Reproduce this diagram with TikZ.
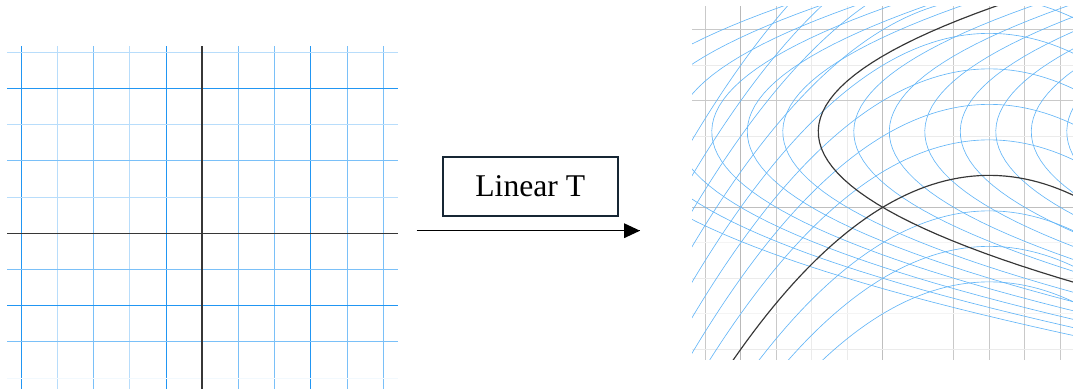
\documentclass[tikz,border=0pt]{standalone}
\usepackage{fontspec}
\setmainfont{Liberation Serif}
\definecolor{gridblue}{RGB}{33,150,243}
\definecolor{axisgray}{RGB}{55,55,55}
\definecolor{boxnavy}{RGB}{22,38,52}

\begin{document}
\begin{tikzpicture}[scale=0.3]
            \tikzstyle{every node}+=[inner sep=0pt]
            \tikzstyle{bluestrong}=[gridblue, line width=0.8pt]
            \tikzstyle{bluemid}=[gridblue!60, line width=0.8pt]
            \tikzstyle{bluefaint}=[gridblue!32, line width=0.8pt]
            \tikzstyle{axisline}=[axisgray, line width=1.2pt]
            \tikzstyle{graymid}=[gray!42, line width=0.9pt]
            \tikzstyle{grayfaint}=[gray!16, line width=0.9pt]
            \tikzstyle{imgcurve}=[gridblue!70, line width=0.55pt]
            \tikzstyle{imgaxis}=[axisgray, line width=1pt]
            \useasboundingbox (0,0) rectangle (107.3,-38.9);
            % plain grid, left
            \draw [bluestrong] (2.13,-4.6) -- (2.13,-38.9);
            \draw [bluefaint] (5.75,-4.6) -- (5.75,-38.9);
            \draw [bluemid] (9.37,-4.6) -- (9.37,-38.9);
            \draw [bluefaint] (12.99,-4.6) -- (12.99,-38.9);
            \draw [bluestrong] (16.61,-4.6) -- (16.61,-38.9);
            \draw [bluemid] (23.85,-4.6) -- (23.85,-38.9);
            \draw [bluemid] (27.47,-4.6) -- (27.47,-38.9);
            \draw [bluestrong] (31.09,-4.6) -- (31.09,-38.9);
            \draw [bluemid] (34.71,-4.6) -- (34.71,-38.9);
            \draw [bluemid] (38.33,-4.6) -- (38.33,-38.9);
            \draw [bluefaint] (0.7,-5.23) -- (39.8,-5.23);
            \draw [bluestrong] (0.7,-8.85) -- (39.8,-8.85);
            \draw [bluefaint] (0.7,-12.47) -- (39.8,-12.47);
            \draw [bluemid] (0.7,-16.09) -- (39.8,-16.09);
            \draw [bluefaint] (0.7,-19.71) -- (39.8,-19.71);
            \draw [bluemid] (0.7,-26.95) -- (39.8,-26.95);
            \draw [bluestrong] (0.7,-30.57) -- (39.8,-30.57);
            \draw [bluemid] (0.7,-34.19) -- (39.8,-34.19);
            \draw [gridblue!6, line width=0.8pt] (0.7,-37.81) -- (39.8,-37.81);
            \draw [axisline, line width=1.5pt] (20.23,-4.6) -- (20.23,-38.9);
            \draw [axisline, line width=1.1pt] (0.7,-23.33) -- (39.8,-23.33);
            % label box and arrow
            \draw (53.03,-18.63) node [draw=boxnavy, line width=1.7pt, minimum width=5.26cm, minimum height=1.76cm, font=\fontsize{27}{32}\selectfont] (tbox) {Linear T};
            \coordinate (tail) at (41.67,-23.07);
            \coordinate (head) at (64.0,-23.07);
            \draw [black, line width=0.85pt] (tail) -- (head);
            \fill [black] (head) -- ++(-1.6,0.75) -- ++(0,-1.5) -- cycle;
            % warped grid, right
            \begin{scope}[shift={(88.27,-20.73)}, scale=3.55]
            \clip (-5.372,-4.287) rectangle (5.363,5.67);
            \draw [graymid] (-5,-4.3) -- (-5,5.7);
            \draw [gray!55, line width=0.9pt] (-4,-4.3) -- (-4,5.7);
            \draw [graymid] (-3,-4.3) -- (-3,5.7);
            \draw [grayfaint] (-2,-4.3) -- (-2,5.7);
            \draw [grayfaint] (-1,-4.3) -- (-1,5.7);
            \draw [gray!50, line width=1.1pt] (0,-4.3) -- (0,5.7);
            \draw [graymid] (2,-4.3) -- (2,5.7);
            \draw [graymid] (3,-4.3) -- (3,5.7);
            \draw [graymid] (4,-4.3) -- (4,5.7);
            \draw [graymid] (5,-4.3) -- (5,5.7);
            \draw [graymid] (-5.4,5) -- (5.4,5);
            \draw [grayfaint] (-5.4,4) -- (5.4,4);
            \draw [graymid] (-5.4,3) -- (5.4,3);
            \draw [grayfaint] (-5.4,2) -- (5.4,2);
            \draw [gray!50, line width=1.1pt] (-5.4,0) -- (5.4,0);
            \draw [gray!9, line width=0.9pt] (-5.4,-1) -- (5.4,-1);
            \draw [grayfaint] (-5.4,-2) -- (5.4,-2);
            \draw [gray!9, line width=0.9pt] (-5.4,-3) -- (5.4,-3);
            \draw [grayfaint] (-5.4,-4) -- (5.4,-4);
            % images of the vertical lines
            \draw [imgcurve] plot [domain=-4.4:5.8, samples=60] ({-7.815+0.4*(\x-2.13)^2}, \x);
            \draw [imgcurve] plot [domain=-4.4:5.8, samples=60] ({-6.815+0.4*(\x-2.13)^2}, \x);
            \draw [imgcurve] plot [domain=-4.4:5.8, samples=60] ({-5.815+0.4*(\x-2.13)^2}, \x);
            \draw [imgcurve] plot [domain=-4.4:5.8, samples=60] ({-4.815+0.4*(\x-2.13)^2}, \x);
            \draw [imgcurve] plot [domain=-4.4:5.8, samples=60] ({-3.815+0.4*(\x-2.13)^2}, \x);
            \draw [imgcurve] plot [domain=-4.4:5.8, samples=60] ({-2.815+0.4*(\x-2.13)^2}, \x);
            \draw [imgcurve] plot [domain=-4.4:5.8, samples=60] ({-0.815+0.4*(\x-2.13)^2}, \x);
            \draw [imgcurve] plot [domain=-4.4:5.8, samples=60] ({0.185+0.4*(\x-2.13)^2}, \x);
            \draw [imgcurve] plot [domain=-4.4:5.8, samples=60] ({1.185+0.4*(\x-2.13)^2}, \x);
            \draw [imgcurve] plot [domain=-4.4:5.8, samples=60] ({2.185+0.4*(\x-2.13)^2}, \x);
            \draw [imgcurve] plot [domain=-4.4:5.8, samples=60] ({3.185+0.4*(\x-2.13)^2}, \x);
            \draw [imgcurve] plot [domain=-4.4:5.8, samples=60] ({4.185+0.4*(\x-2.13)^2}, \x);
            \draw [imgcurve] plot [domain=-4.4:5.8, samples=60] ({5.185+0.4*(\x-2.13)^2}, \x);
            % images of the horizontal lines
            \draw [imgcurve] plot [domain=-5.5:5.5, samples=60] (\x, {-2.1-0.1*(\x-3)^2});
            \draw [imgcurve] plot [domain=-5.5:5.5, samples=60] (\x, {-1.1-0.1*(\x-3)^2});
            \draw [imgcurve] plot [domain=-5.5:5.5, samples=60] (\x, {-0.1-0.1*(\x-3)^2});
            \draw [imgcurve] plot [domain=-5.5:5.5, samples=60] (\x, {1.9-0.1*(\x-3)^2});
            \draw [imgcurve] plot [domain=-5.5:5.5, samples=60] (\x, {2.9-0.1*(\x-3)^2});
            \draw [imgcurve] plot [domain=-5.5:5.5, samples=60] (\x, {3.9-0.1*(\x-3)^2});
            \draw [imgcurve] plot [domain=-5.5:5.5, samples=60] (\x, {4.9-0.1*(\x-3)^2});
            \draw [imgcurve] plot [domain=-5.5:5.5, samples=60] (\x, {5.9-0.1*(\x-3)^2});
            \draw [imgcurve] plot [domain=-5.5:5.5, samples=60] (\x, {6.9-0.1*(\x-3)^2});
            \draw [imgcurve] plot [domain=-5.5:5.5, samples=60] (\x, {7.9-0.1*(\x-3)^2});
            \draw [imgcurve] plot [domain=-5.5:5.5, samples=60] (\x, {8.9-0.1*(\x-3)^2});
            % images of the two axes
            \draw [imgaxis] plot [domain=-4.4:5.8, samples=60] ({-1.815+0.4*(\x-2.13)^2}, \x);
            \draw [imgaxis] plot [domain=-5.5:5.5, samples=60] (\x, {0.9-0.1*(\x-3)^2});
            \end{scope}
\end{tikzpicture}
\end{document}
